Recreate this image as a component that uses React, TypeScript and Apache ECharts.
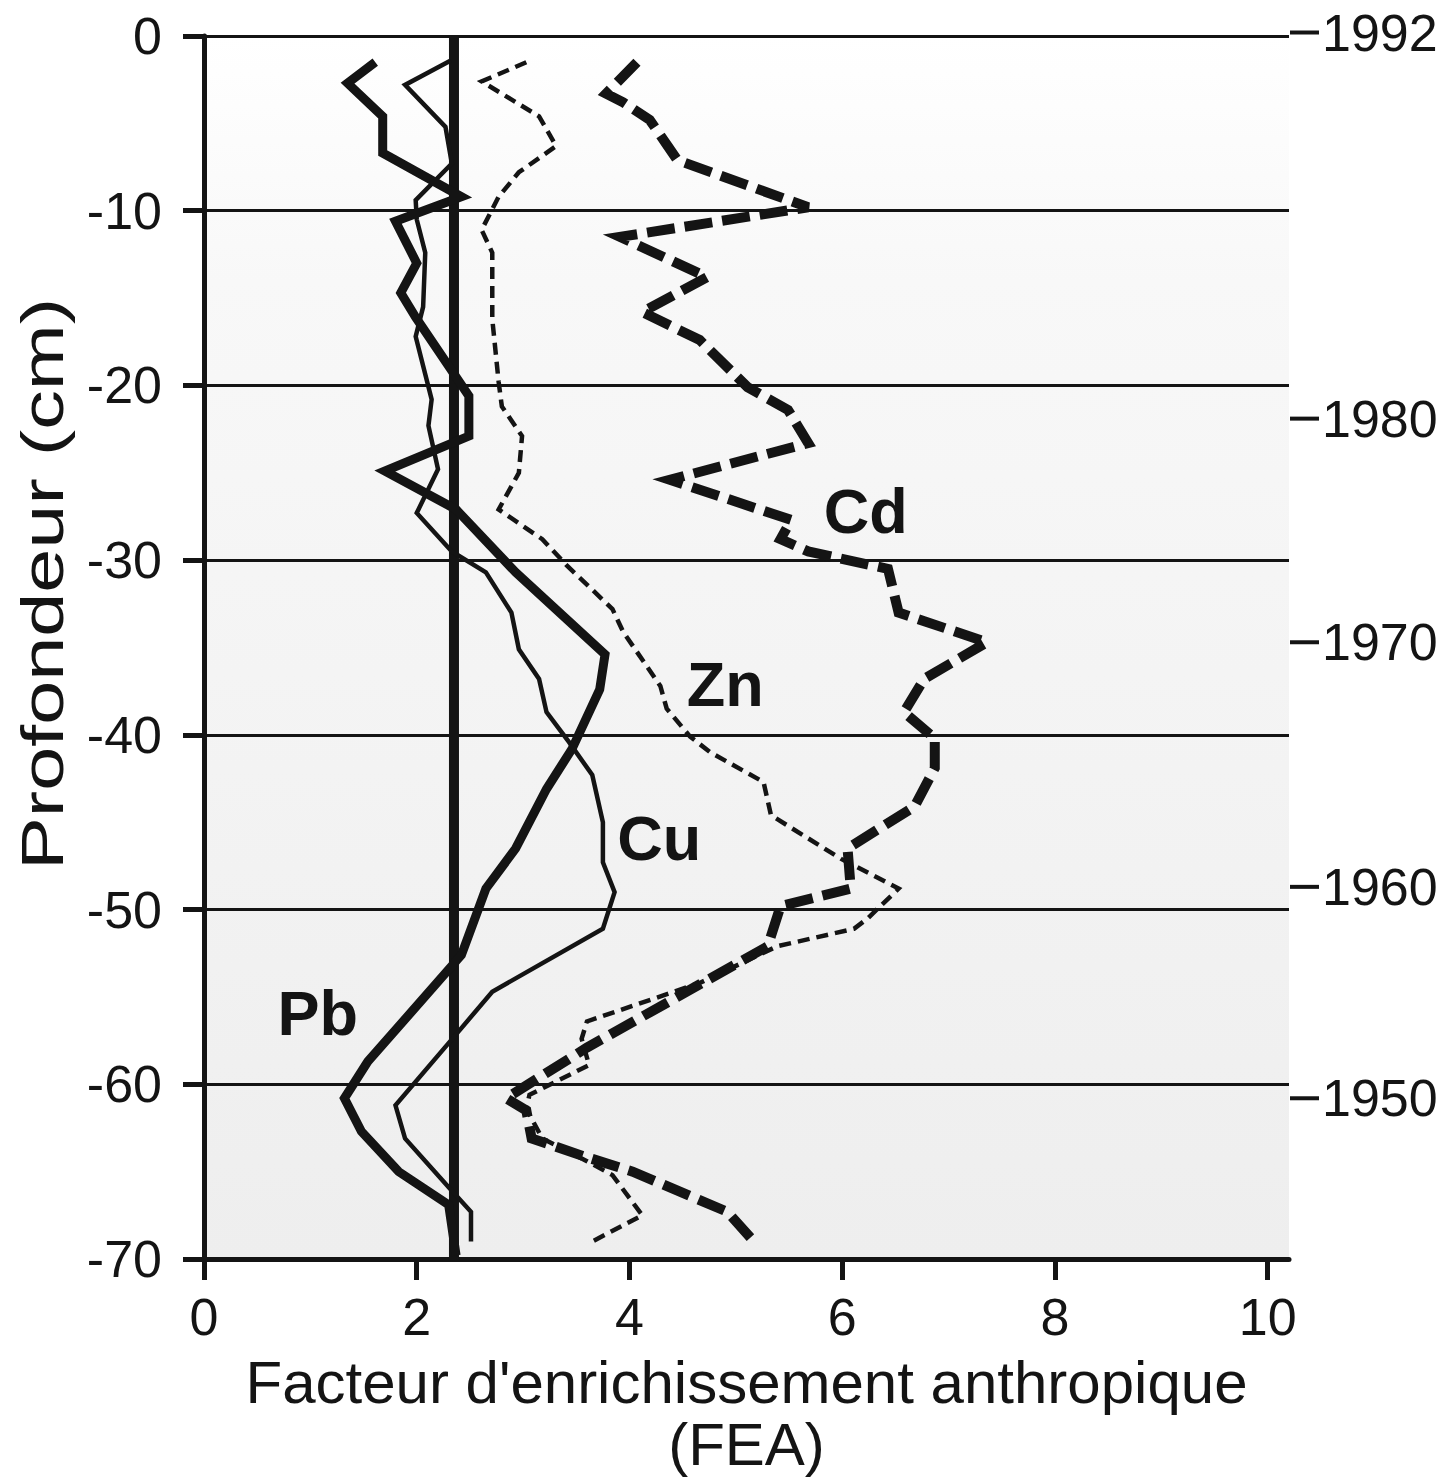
import React, { useEffect, useRef } from "react";
import * as echarts from "echarts";

const FONT = '"Liberation Sans", Arial, Helvetica, sans-serif';
const INK = "#141414";

// Depth axis (cm) and FEA axis ticks
const xTicks = [0, 2, 4, 6, 8, 10];
const yTicks = [0, -10, -20, -30, -40, -50, -60, -70];

// Pb (thick solid)
const pbFea = [1.61, 1.35, 1.68, 1.68, 2.42, 1.80, 2.00, 1.85, 1.99, 2.49, 2.49, 1.70, 2.37, 2.93, 3.77, 3.72, 3.46, 3.22, 2.93, 2.65, 2.42, 1.54, 1.32, 1.48, 1.83, 2.30, 2.37];
const pbDepth = [-1.5, -2.7, -4.6, -6.7, -9.2, -10.6, -13.0, -14.7, -16.1, -20.6, -22.9, -24.9, -27.1, -30.7, -35.4, -37.4, -40.8, -43.1, -46.5, -48.8, -52.6, -58.7, -60.8, -62.7, -65.0, -66.9, -69.8];

// Cu (thin solid)
const cuFea = [2.32, 1.89, 2.27, 2.33, 1.99, 2.00, 2.08, 2.06, 1.99, 2.14, 2.11, 2.20, 2.00, 2.33, 2.65, 2.89, 2.96, 3.15, 3.22, 3.43, 3.65, 3.75, 3.75, 3.86, 3.75, 2.71, 2.39, 1.80, 1.89, 2.30, 2.51, 2.51];
const cuDepth = [-1.4, -2.8, -5.2, -7.3, -9.4, -10.5, -12.4, -15.5, -17.2, -20.8, -22.3, -24.8, -27.3, -29.5, -30.7, -33.0, -35.1, -36.8, -38.7, -40.4, -42.3, -45.0, -47.3, -49.0, -51.1, -54.7, -57.0, -61.2, -63.1, -65.9, -67.3, -69.0];

// Zn (thin dashed)
const znFea = [3.03, 2.61, 3.15, 3.31, 2.96, 2.77, 2.61, 2.71, 2.71, 2.77, 2.80, 2.99, 2.96, 2.77, 3.18, 3.41, 3.84, 3.94, 4.29, 4.35, 4.57, 4.76, 5.26, 5.33, 5.99, 6.53, 6.24, 6.11, 5.39, 4.66, 3.60, 3.55, 3.62, 3.06, 3.03, 3.18, 3.60, 3.84, 4.12, 3.65];
const znDepth = [-1.5, -2.6, -4.6, -6.3, -7.8, -9.2, -11.1, -12.4, -16.2, -19.8, -21.2, -22.9, -25.0, -27.1, -28.8, -30.3, -32.8, -34.1, -37.2, -38.5, -40.1, -41.0, -42.7, -44.6, -47.1, -48.8, -50.5, -51.1, -52.1, -54.2, -56.4, -57.4, -58.9, -60.6, -61.4, -63.1, -64.4, -65.2, -67.5, -69.0];

// Cd (thick dashed)
const cdFea = [4.07, 3.78, 3.94, 4.19, 4.36, 4.45, 5.68, 3.91, 4.73, 4.12, 4.66, 5.11, 5.49, 5.68, 4.38, 5.52, 5.42, 5.68, 6.43, 6.53, 7.36, 6.77, 6.58, 6.87, 6.87, 6.68, 6.05, 6.08, 5.42, 5.30, 3.60, 2.84, 3.03, 3.08, 3.56, 4.03, 4.92, 5.17];
const cdDepth = [-1.5, -3.3, -3.8, -4.8, -6.3, -7.1, -9.8, -11.5, -13.8, -15.8, -17.4, -20.1, -21.4, -23.3, -25.4, -27.7, -28.8, -29.5, -30.5, -33.0, -34.7, -36.8, -38.7, -40.2, -41.9, -44.1, -46.5, -48.8, -49.8, -52.1, -57.9, -60.8, -61.5, -63.1, -64.1, -65.0, -67.3, -69.0];

// Reference line
const refFea = [2.35, 2.35];
const refDepth = [0, -70];

// Element labels
const elemNames = ["Cd", "Zn", "Cu", "Pb"];
const elemFea = [6.22, 4.90, 4.28, 1.07];
const elemDepth = [-27.2, -37.1, -45.9, -55.9];

// Dating marks on the right
const dateLabels = ["1992", "1980", "1970", "1960", "1950"];
const dateDepth = [0.2, -21.9, -34.7, -48.7, -60.8];

const X_MAX = 10.2;

const zip = (a: number[], b: number[]) => a.map((v, i) => [v, b[i]]);

export default function App() {
  const ref = useRef<HTMLDivElement>(null);
  useEffect(() => {
    const chart = echarts.init(ref.current!, null, { renderer: "svg" });
    const option: any = {
      animation: false,
      backgroundColor: "#ffffff",
      textStyle: { fontFamily: FONT },
      grid: {
        left: 204,
        right: 166,
        top: 36,
        bottom: 218,
        show: true,
        borderWidth: 0,
        backgroundColor: new echarts.graphic.LinearGradient(0, 0, 0, 1, [
          { offset: 0, color: "#ffffff" },
          { offset: 0.2, color: "#f8f8f8" },
          { offset: 1, color: "#eeeeee" },
        ]),
      },
      xAxis: {
        type: "value",
        min: 0,
        max: X_MAX,
        interval: 2,
        axisLine: { show: true, onZero: false, lineStyle: { color: INK, width: 5 } },
        axisTick: { show: true, length: 21, customValues: xTicks, lineStyle: { color: INK, width: 5 } },
        axisLabel: { fontSize: 52, color: INK, margin: 32, fontFamily: FONT, customValues: xTicks },
        splitLine: { show: false },
        name: "Facteur d'enrichissement anthropique\n(FEA)",
        nameLocation: "middle",
        nameGap: 92,
        nameTextStyle: { fontSize: 60, color: INK, lineHeight: 62, fontFamily: FONT },
      },
      yAxis: {
        type: "value",
        min: -70,
        max: 0,
        interval: 10,
        axisLine: { show: true, onZero: false, lineStyle: { color: INK, width: 5 } },
        axisTick: { show: true, length: 21, customValues: yTicks, lineStyle: { color: INK, width: 5 } },
        axisLabel: { fontSize: 52, color: INK, margin: 42, fontFamily: FONT, customValues: yTicks },
        splitLine: { show: true, lineStyle: { color: INK, width: 3 } },
      },
      graphic: [
        {
          type: "text",
          x: 42,
          y: 584,
          rotation: Math.PI / 2,
          scaleX: 1.32,
          style: {
            text: "Profondeur (cm)",
            font: `60px ${FONT}`,
            fill: INK,
            align: "center",
            verticalAlign: "middle",
          },
        },
      ],
      series: [
        {
          type: "line",
          name: "ref",
          data: zip(refFea, refDepth),
          symbol: "none",
          lineStyle: { color: INK, width: 10 },
          z: 3,
        },
        {
          type: "line",
          name: "Cu",
          data: zip(cuFea, cuDepth),
          symbol: "none",
          lineStyle: { color: INK, width: 4.5, join: "miter" },
          z: 4,
        },
        {
          type: "line",
          name: "Pb",
          data: zip(pbFea, pbDepth),
          symbol: "none",
          lineStyle: { color: INK, width: 9, join: "miter" },
          z: 4,
        },
        {
          type: "line",
          name: "Zn",
          data: zip(znFea, znDepth),
          symbol: "none",
          lineStyle: { color: INK, width: 4.5, type: [12, 7], join: "miter" },
          z: 4,
        },
        {
          type: "line",
          name: "Cd",
          data: zip(cdFea, cdDepth),
          symbol: "none",
          lineStyle: { color: INK, width: 10, type: [28, 10], join: "miter" },
          z: 4,
        },
        {
          type: "custom",
          name: "labels",
          clip: false,
          data: elemNames.map((n, i) => [elemFea[i], elemDepth[i]]),
          renderItem: (params: any, api: any) => {
            const p = api.coord([api.value(0), api.value(1)]);
            return {
              type: "text",
              x: p[0],
              y: p[1],
              style: {
                text: elemNames[params.dataIndex],
                font: `bold 63px ${FONT}`,
                fill: INK,
                align: "center",
                verticalAlign: "middle",
              },
            };
          },
          z: 6,
        },
        {
          type: "custom",
          name: "dates",
          clip: false,
          data: dateDepth.map((d) => [X_MAX, d]),
          renderItem: (params: any, api: any) => {
            const p = api.coord([api.value(0), api.value(1)]);
            return {
              type: "group",
              children: [
                {
                  type: "line",
                  shape: { x1: p[0] + 1, y1: p[1], x2: p[0] + 30, y2: p[1] },
                  style: { stroke: INK, lineWidth: 4 },
                },
                {
                  type: "text",
                  x: p[0] + 33,
                  y: p[1],
                  style: {
                    text: dateLabels[params.dataIndex],
                    font: `52px ${FONT}`,
                    fill: INK,
                    align: "left",
                    verticalAlign: "middle",
                  },
                },
              ],
            };
          },
          z: 5,
        },
      ],
    };
    chart.setOption(option);
    return () => chart.dispose();
  }, []);
  return (
    <div
      ref={ref}
      style={{ position: "fixed", left: 0, top: 0, width: 1455, height: 1480, background: "#fff" }}
    />
  );
}
